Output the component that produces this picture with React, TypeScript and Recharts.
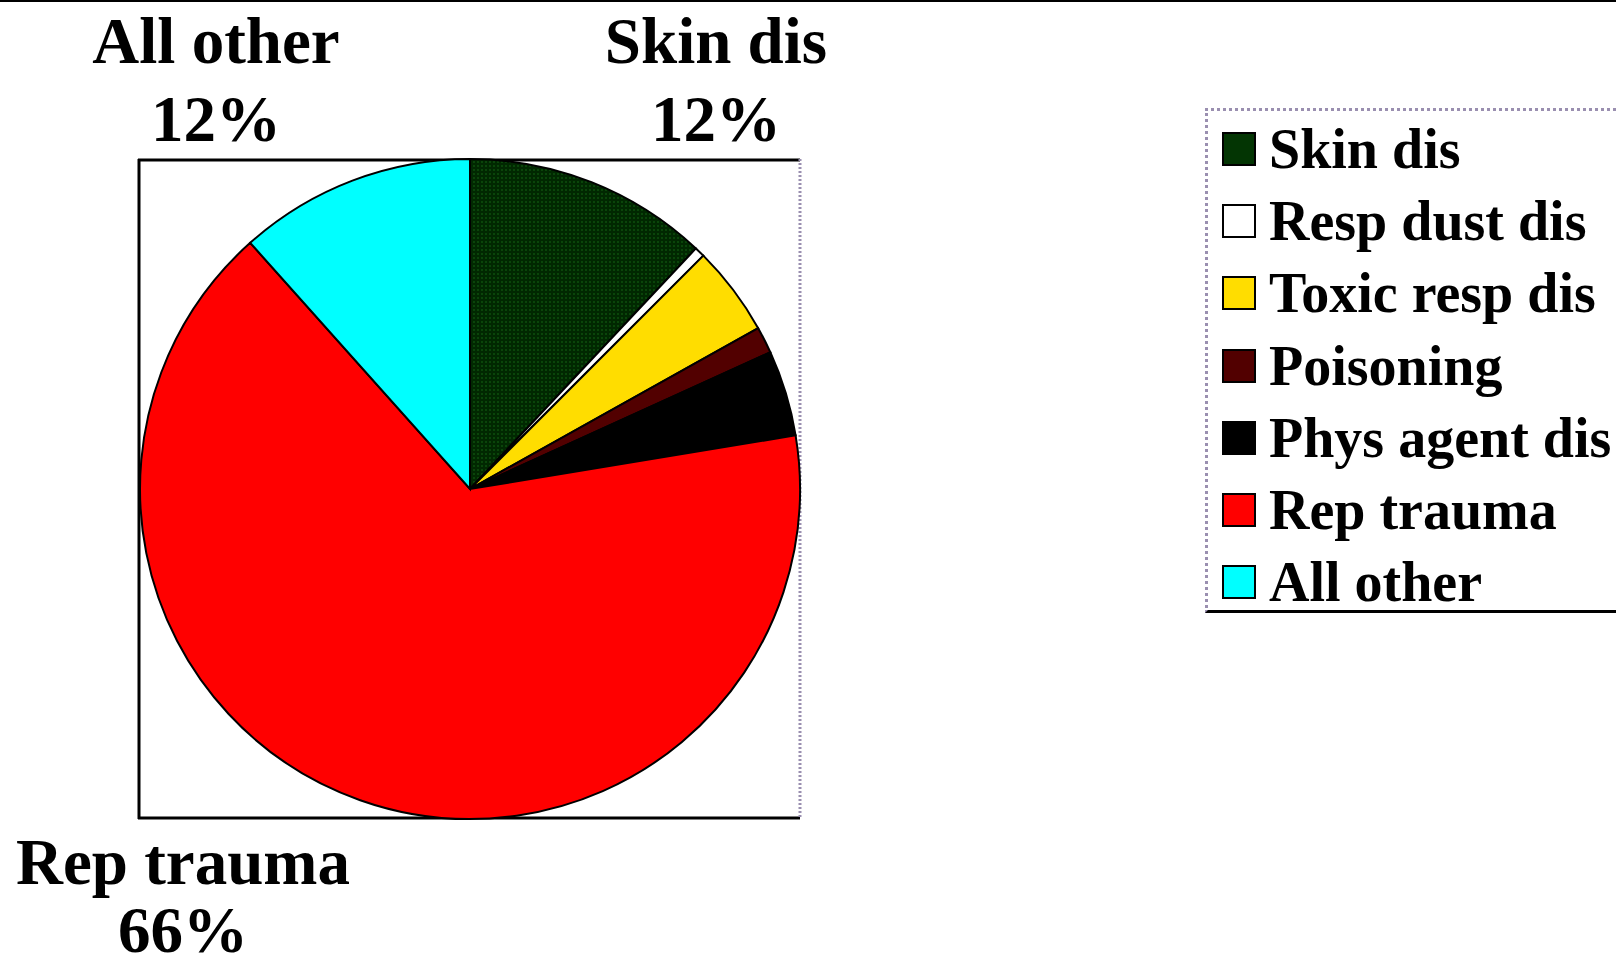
import React from 'react';
import { PieChart, Pie, Cell, Legend } from 'recharts';

const categories = ['Skin dis', 'Resp dust dis', 'Toxic resp dis', 'Poisoning', 'Phys agent dis', 'Rep trauma', 'All other'];
const shares = [12, 0.5, 4.4, 1.3, 4.2, 66, 11.6];
const colors = ['url(#skinTex)', '#ffffff', '#ffdd00', '#520000', '#000000', '#ff0000', '#00ffff'];
const swatchColors = ['#033503', '#ffffff', '#ffdd00', '#520000', '#000000', '#ff0000', '#00ffff'];

const data = categories.map((name, i) => ({ name, value: shares[i] }));

const FONT = '"Liberation Serif", "Times New Roman", serif';

const labelPlacement: Record<string, { x: number; y1: number; y2: number }> = {
  'Skin dis': { x: 716, y1: 63, y2: 141 },
  'All other': { x: 216, y1: 63, y2: 141 },
  'Rep trauma': { x: 183, y1: 884, y2: 952 },
};

const renderLabel = (props: any) => {
  const p = labelPlacement[props.name];
  if (!p) return null;
  const pct = Math.round((props.percent ?? 0) * 100) + '%';
  return (
    <g key={props.name}>
      <text x={p.x} y={p.y1} textAnchor="middle" fontFamily={FONT} fontWeight="bold" fontSize={65} fill="#000">
        {props.name}
      </text>
      <text x={p.x} y={p.y2} textAnchor="middle" fontFamily={FONT} fontWeight="bold" fontSize={65} fill="#000">
        {pct}
      </text>
    </g>
  );
};

const LegendContent = () => (
  <div
    style={{
      position: 'relative',
      width: 411,
      height: 505,
      boxSizing: 'border-box',
      borderLeft: '3px dotted #9a8fb0',
      borderTop: '3px dotted #9a8fb0',
      borderBottom: '3px solid #000',
      background: '#fff',
    }}
  >
    {categories.map((name, i) => (
      <div
        key={name}
        style={{
          position: 'absolute',
          left: 14,
          top: 2 + i * 72.2,
          height: 72,
          display: 'flex',
          alignItems: 'center',
          whiteSpace: 'nowrap',
        }}
      >
        <div
          style={{
            width: 34,
            height: 34,
            boxSizing: 'border-box',
            border: '2px solid #000',
            background: swatchColors[i],
            marginRight: 13,
          }}
        />
        <span style={{ fontFamily: FONT, fontWeight: 'bold', fontSize: 56, lineHeight: '72px', color: '#000' }}>{name}</span>
      </div>
    ))}
  </div>
);

export default function App() {
  return (
    <div style={{ position: 'absolute', left: 0, top: 0, width: 1616, height: 970, background: '#fff', overflow: 'hidden' }}>
      <PieChart width={1616} height={970} margin={{ top: 0, right: 0, bottom: 0, left: 0 }}>
        <defs>
          <pattern id="skinTex" patternUnits="userSpaceOnUse" width="4" height="4">
            <rect width="4" height="4" fill="#012801" />
            <rect x="1" y="1" width="2" height="2" fill="#0a450a" />
          </pattern>
        </defs>
        <rect x={0} y={0} width={1616} height={2} fill="#000" />
        <rect x={139} y={160} width={660} height={658} fill="#fff" stroke="none" />
        <line x1={138} y1={160} x2={800} y2={160} stroke="#000" strokeWidth={3} />
        <line x1={139} y1={159} x2={139} y2={819} stroke="#000" strokeWidth={3} />
        <line x1={138} y1={818} x2={800} y2={818} stroke="#000" strokeWidth={3} />
        <line x1={800} y1={159} x2={800} y2={819} stroke="#9a8fb0" strokeWidth={3} strokeDasharray="2 2" />
        <Pie
          data={data}
          dataKey="value"
          nameKey="name"
          cx={470}
          cy={489}
          outerRadius={330}
          startAngle={90}
          endAngle={-270}
          stroke="#000"
          strokeWidth={2}
          label={renderLabel}
          labelLine={false}
          isAnimationActive={false}
        >
          {data.map((d, i) => (
            <Cell key={d.name} fill={colors[i]} />
          ))}
        </Pie>
        <Legend
          content={LegendContent}
          wrapperStyle={{ position: 'absolute', left: 1205, top: 108, width: 411, height: 505 }}
        />
      </PieChart>
    </div>
  );
}
